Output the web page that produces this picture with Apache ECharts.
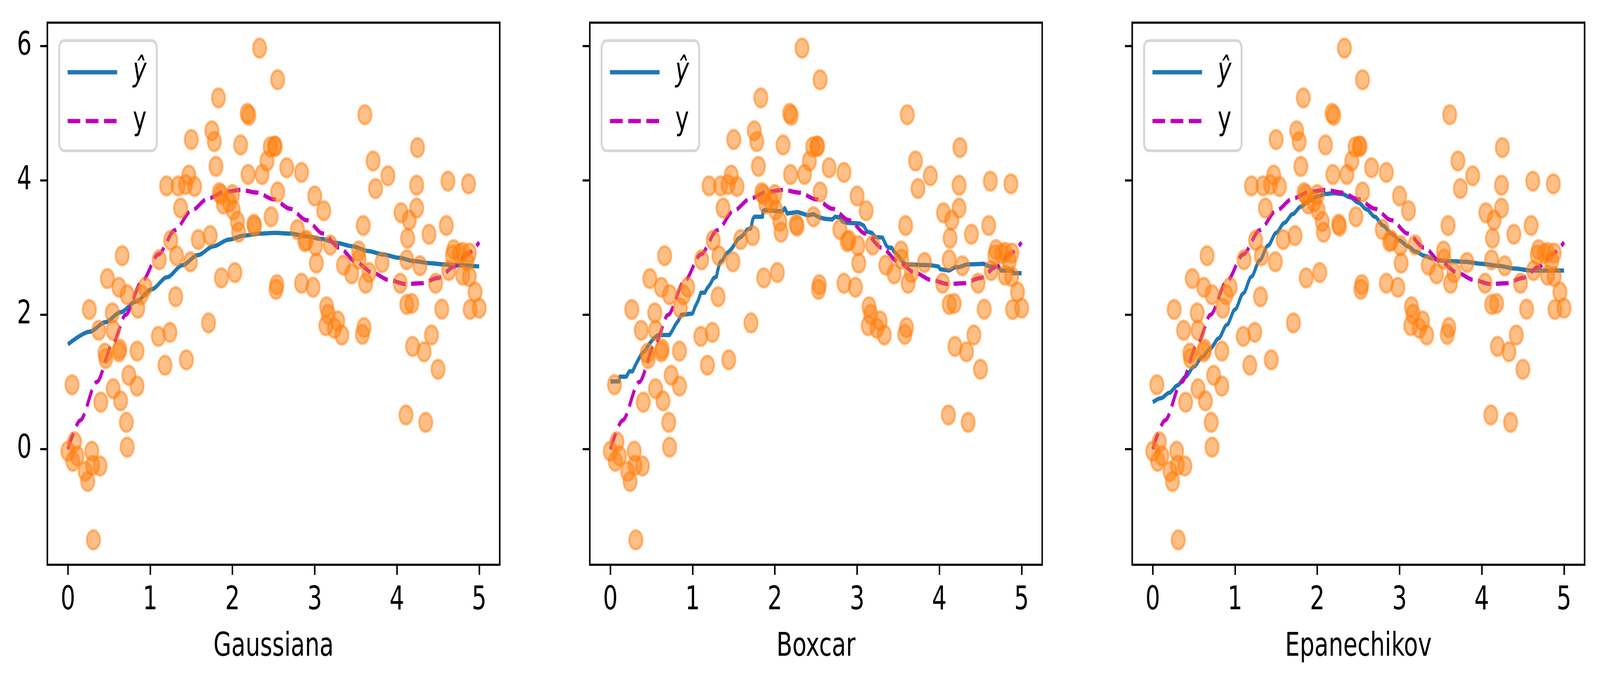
<!DOCTYPE html>
<html><head><meta charset="utf-8">
<script src="https://cdn.jsdelivr.net/npm/echarts@6/dist/echarts.min.js"></script>
<style>html,body{margin:0;padding:0;background:#fff;overflow:hidden}
#c{width:5811px;height:1759px;transform-origin:0 0;position:absolute;left:0;top:0}</style>
</head><body><div id="c"></div>
<script>
const panelNames = ['Gaussiana', 'Boxcar', 'Epanechikov'];
const xTicks = [0, 1, 2, 3, 4, 5];
const yTicks = [0, 2, 4, 6];

// observed noisy points (same in all panels)
const scatterX = [0.00,0.05,0.08,0.06,0.11,0.21,0.24,0.26,0.29,0.30,0.31,0.39,0.375,0.40,0.45,0.46,0.48,0.54,0.55,0.55,
  0.62,0.62,0.63,0.64,0.66,0.72,0.71,0.72,0.74,0.84,0.85,0.84,0.89,0.94,1.10,1.11,1.18,1.20,1.24,1.25,
  1.31,1.32,1.34,1.37,1.43,1.44,1.47,1.49,1.50,1.54,1.585,1.71,1.73,1.75,1.78,1.80,1.83,1.84,1.86,1.865,
  1.89,1.96,2.00,2.01,2.03,2.06,2.075,2.10,2.18,2.20,2.19,2.26,2.27,2.33,2.36,2.42,2.46,2.47,2.51,2.52,
  2.53,2.54,2.55,2.55,2.66,2.79,2.84,2.84,2.88,2.90,2.98,3.00,3.02,3.01,3.11,3.145,3.165,3.136,3.19,3.24,
  3.28,3.33,3.35,3.45,3.535,3.54,3.58,3.59,3.61,3.60,3.62,3.66,3.71,3.74,3.82,3.89,4.05,4.04,4.11,4.12,
  4.12,4.13,4.15,4.18,4.19,4.24,4.24,4.25,4.28,4.33,4.35,4.39,4.42,4.47,4.50,4.545,4.60,4.62,4.63,4.675,
  4.69,4.76,4.80,4.80,4.85,4.87,4.88,4.88,4.89,4.95,5.00];
const scatterY = [-0.03,0.96,0.11,-0.18,-0.10,-0.33,-0.48,2.08,-0.03,-0.24,-1.35,-0.25,1.77,0.70,1.43,1.35,2.54,2.03,0.90,1.77,
  2.41,1.45,1.49,0.72,2.88,2.30,0.40,0.03,1.10,0.94,2.10,1.46,2.30,2.41,1.68,2.82,1.25,3.92,1.74,3.11,
  2.27,2.88,3.92,3.59,3.94,1.33,4.08,2.79,4.61,3.91,3.12,1.88,3.18,4.74,4.58,4.21,5.23,3.82,3.79,2.55,
  3.65,3.68,3.79,3.56,2.63,3.39,3.23,4.53,5.00,4.97,4.09,3.35,3.32,5.97,4.09,4.29,4.50,3.46,4.51,4.51,
  2.38,2.45,5.50,3.83,4.19,3.27,2.47,4.12,3.09,3.11,2.41,3.77,2.77,3.03,3.55,2.12,2.01,1.84,3.04,1.80,
  1.91,1.70,2.74,2.61,2.95,2.83,1.71,3.33,4.98,1.81,2.47,2.63,4.29,3.88,2.78,4.07,3.52,2.47,0.51,2.155,
  2.82,3.14,3.41,2.17,1.53,3.59,3.93,4.49,2.73,1.45,0.40,3.20,1.70,2.47,1.19,2.085,3.33,3.99,2.66,2.89,
  2.97,2.91,2.59,2.93,2.80,3.95,2.57,2.92,2.08,2.34,2.10];

// true function y
const trueX = [0.00,0.15,0.35,0.55,0.70,0.90,1.10,1.30,1.50,1.70,1.90,2.10,2.30,2.50,2.70,2.90,3.10,3.30,3.50,3.70,3.90,4.10,4.30,4.50,4.70,4.85,5.00];
const trueY = [0.00,0.43,1.00,1.58,2.00,2.50,2.90,3.26,3.55,3.73,3.83,3.86,3.82,3.72,3.58,3.41,3.21,3.00,2.79,2.63,2.52,2.46,2.47,2.55,2.72,2.90,3.08];

// estimates ŷ for each kernel
const gaussX = [0.00,0.267,0.454,0.642,0.83,1.017,1.205,1.393,1.58,1.768,1.956,2.143,2.33,2.52,2.71,2.90,3.08,3.27,3.46,3.65,3.83,4.02,4.21,4.40,4.58,4.77,5.00];
const gaussY = [1.56,1.75,1.89,2.04,2.20,2.38,2.56,2.74,2.89,3.02,3.12,3.18,3.21,3.22,3.21,3.17,3.13,3.07,3.02,2.95,2.90,2.85,2.80,2.77,2.75,2.74,2.72];
const boxX = [0,0.107,0.116,0.195,0.23,0.27,0.317,0.37,0.43,0.475,0.527,0.58,0.72,0.755,0.79,0.83,0.86,1.0,1.03,1.07,1.10,1.148,1.174,1.21,1.25,1.29,1.305,1.33,1.37,1.40,1.45,1.49,1.52,1.55,1.59,1.63,1.66,1.71,1.73,1.75,1.85,1.856,1.873,2.09,2.12,2.15,2.28,2.33,2.40,2.47,2.54,2.61,2.70,2.73,2.79,2.82,2.88,3.03,3.08,3.12,3.18,3.22,3.31,3.35,3.38,3.42,3.45,3.51,3.54,3.59,3.64,3.85,3.89,3.99,4.01,4.12,4.19,4.24,4.33,4.54,4.57,4.61,4.71,4.75,4.89,4.90,5.0];
const boxY = [1.01,1.01,1.08,1.08,1.16,1.16,1.28,1.40,1.48,1.57,1.65,1.70,1.70,1.77,1.85,1.92,2.0,2.02,2.12,2.22,2.33,2.33,2.39,2.45,2.54,2.57,2.66,2.78,2.82,2.90,2.95,3.01,3.07,3.13,3.16,3.21,3.27,3.29,3.42,3.46,3.46,3.55,3.56,3.54,3.59,3.51,3.53,3.51,3.48,3.50,3.45,3.43,3.42,3.46,3.45,3.39,3.37,3.36,3.33,3.24,3.22,3.16,3.15,3.04,3.0,3.0,2.94,2.87,2.81,2.75,2.75,2.74,2.74,2.72,2.68,2.66,2.71,2.71,2.75,2.76,2.74,2.72,2.72,2.66,2.66,2.62,2.62];
const epanX = [0,0.1,0.2,0.3,0.4,0.5,0.6,0.7,0.8,0.9,1.0,1.1,1.2,1.3,1.4,1.5,1.6,1.7,1.8,1.9,2.0,2.1,2.2,2.3,2.4,2.5,2.6,2.7,2.8,2.9,3.0,3.1,3.2,3.3,3.4,3.5,3.6,3.8,4.0,4.2,4.4,4.6,4.8,5.0];
const epanY = [0.70,0.76,0.84,0.95,1.08,1.23,1.37,1.50,1.65,1.85,2.08,2.32,2.57,2.81,3.03,3.22,3.37,3.50,3.61,3.70,3.76,3.80,3.81,3.80,3.75,3.67,3.57,3.46,3.33,3.21,3.11,3.02,2.94,2.88,2.84,2.81,2.80,2.79,2.76,2.73,2.69,2.66,2.66,2.66];

const hatX = [gaussX, boxX, epanX];
const hatY = [gaussY, boxY, epanY];
const zip = (a, b) => a.map((v, i) => [v, b[i]]);

// the design is laid out at 5811x1759; fit it to the actual window
const W = 5811, H = 1759;
const box = document.getElementById('c');
const sx = Math.min(1, (window.innerWidth || W) / W), sy = Math.min(1, (window.innerHeight || H) / H);
box.style.transform = 'scale(' + sx + ',' + sy + ')';

const FONT = 'DejaVu Sans';
const FS = 84;
const gridLeft = [172, 2142, 4112];

const option = {
  animation: false,
  backgroundColor: '#ffffff',
  textStyle: { fontFamily: FONT },
  grid: gridLeft.map(l => ({
    left: l, top: 58, width: 1643, height: 1388,
    show: true, borderColor: '#000000', borderWidth: 5.5,
    backgroundColor: 'transparent', outerBoundsMode: 'none', containLabel: false
  })),
  xAxis: panelNames.map((nm, i) => ({
    type: 'value', gridIndex: i, min: -0.25, max: 5.25,
    name: nm, nameLocation: 'middle', nameGap: 169,
    nameTextStyle: { fontSize: FS, color: '#000', fontFamily: FONT },
    axisLine: { show: false, onZero: false },
    axisTick: { show: true, length: 26, lineStyle: { color: '#000', width: 5.5 }, customValues: xTicks },
    axisLabel: { show: true, margin: 50, fontSize: FS, color: '#000', fontFamily: FONT, customValues: xTicks,
      formatter: v => String(v) },
    splitLine: { show: false }
  })),
  yAxis: panelNames.map((nm, i) => ({
    type: 'value', gridIndex: i, min: -1.72, max: 6.35,
    axisLine: { show: false, onZero: false },
    axisTick: { show: true, length: 26, lineStyle: { color: '#000', width: 5.5 }, customValues: yTicks },
    axisLabel: { show: i === 0, margin: 57, fontSize: FS, color: '#000', fontFamily: FONT, customValues: yTicks,
      formatter: v => String(v) },
    splitLine: { show: false }
  })),
  legend: gridLeft.map(l => ({
    left: l + 43, top: 104, orient: 'vertical',
    data: ['ŷ', 'y'], selectedMode: false,
    padding: [38, 37, 33, 25],
    itemWidth: 180, itemHeight: 86, itemGap: 39,
    backgroundColor: 'rgba(255,255,255,0.8)', borderColor: '#d6d6d6', borderWidth: 7, borderRadius: 18,
    lineStyle: { width: 11 },
    itemStyle: { color: 'rgba(0,0,0,0)', borderColor: 'rgba(0,0,0,0)', borderWidth: 0, opacity: 0 },
    formatter: n => n === 'ŷ' ? '{i|ŷ}' : n,
    textStyle: { fontSize: FS, lineHeight: 86, color: '#000', fontFamily: FONT, padding: [0, 0, 0, 52],
      rich: { i: { fontStyle: 'italic', fontSize: FS, lineHeight: 86, fontFamily: FONT, color: '#000' } } }
  })),
  series: []
};

for (let i = 0; i < 3; i++) {
  option.series.push({
    type: 'line', name: 'ŷ', xAxisIndex: i, yAxisIndex: i, data: zip(hatX[i], hatY[i]),
    symbol: 'none', smooth: i === 1 ? false : 0.3, smoothMonotone: 'x', z: 2, silent: true,
    lineStyle: { color: '#1f77b4', width: 11, join: 'round', cap: 'butt' }, itemStyle: { color: '#1f77b4' }
  });
  option.series.push({
    type: 'line', name: 'y', xAxisIndex: i, yAxisIndex: i, data: zip(trueX, trueY),
    symbol: 'none', smooth: 0.3, smoothMonotone: 'x', z: 2, silent: true,
    lineStyle: { color: '#bf00bf', width: 11, type: [46, 20], cap: 'butt', join: 'round' }, itemStyle: { color: '#bf00bf' }
  });
  option.series.push({
    type: 'scatter', name: 'datos', xAxisIndex: i, yAxisIndex: i, data: zip(scatterX, scatterY),
    symbol: 'circle', symbolSize: 48, z: 3, silent: true,
    itemStyle: { color: '#ff7f0e', borderColor: '#ff7f0e', borderWidth: 7, opacity: 0.5 }
  });
}

const chart = echarts.init(box, null, { renderer: 'canvas', width: W, height: H });
chart.setOption(option);
</script>
</body></html>
